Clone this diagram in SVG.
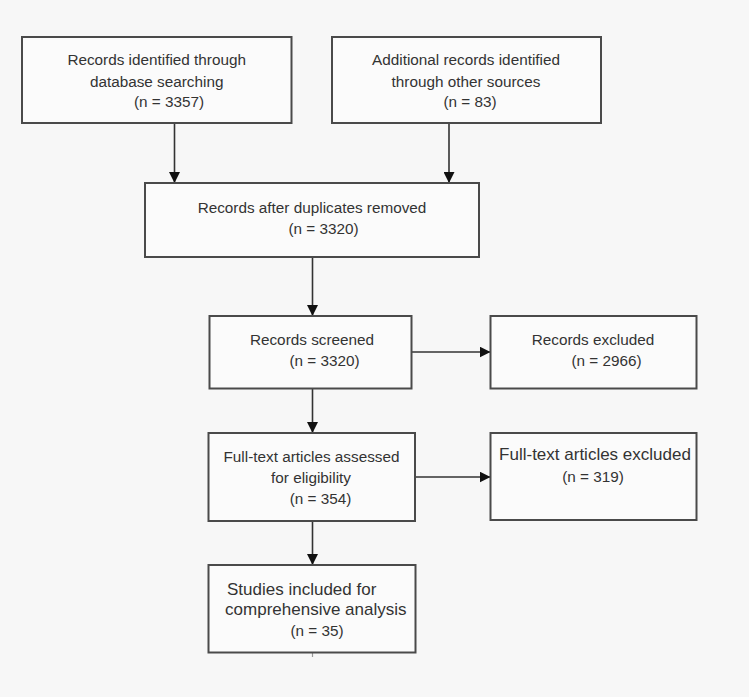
<svg xmlns="http://www.w3.org/2000/svg" width="749" height="697" viewBox="0 0 749 697">
<defs>
<style>
.box{fill:#fbfbfb;stroke:#4a4a4a;stroke-width:2}
.t{font-family:"Liberation Sans",Arial,sans-serif;font-size:15.3px;fill:#333;text-anchor:middle}
.tl{font-family:"Liberation Sans",Arial,sans-serif;font-size:17px;fill:#333;text-anchor:middle}
.ln{stroke:#333;stroke-width:1.6;fill:none}
</style>
<marker id="ah" viewBox="0 0 10 10" refX="10" refY="5" markerWidth="11" markerHeight="11" markerUnits="userSpaceOnUse" orient="auto">
<path d="M0,0 L10,5 L0,10 Z" fill="#111"/>
</marker>
</defs>
<rect x="0" y="0" width="749" height="697" fill="#f7f7f7"/>
<g id="connectors">
<line class="ln" x1="174.5" y1="123" x2="174.5" y2="183" marker-end="url(#ah)"/>
<line class="ln" x1="449" y1="123" x2="449" y2="183" marker-end="url(#ah)"/>
<line class="ln" x1="312.5" y1="257" x2="312.5" y2="316" marker-end="url(#ah)"/>
<line class="ln" x1="411.5" y1="352" x2="490.5" y2="352" marker-end="url(#ah)"/>
<line class="ln" x1="312.5" y1="389" x2="312.5" y2="433" marker-end="url(#ah)"/>
<line class="ln" x1="415" y1="477" x2="490.5" y2="477" marker-end="url(#ah)"/>
<line class="ln" x1="312.5" y1="521" x2="312.5" y2="565" marker-end="url(#ah)"/>
<line x1="312.5" y1="653" x2="312.5" y2="657" stroke="#999" stroke-width="1.2"/>
</g>
<g id="n1">
<rect class="box" x="22" y="37" width="269.5" height="86"/>
<text class="t" x="156.7" y="65">Records identified through</text>
<text class="t" x="156.7" y="86.5">database searching</text>
<text class="t" x="169" y="107">(n = 3357)</text>
</g>
<g id="n2">
<rect class="box" x="332" y="37" width="269" height="86"/>
<text class="t" x="466" y="65">Additional records identified</text>
<text class="t" x="466" y="86.5">through other sources</text>
<text class="t" x="470" y="107">(n = 83)</text>
</g>
<g id="n3">
<rect class="box" x="145" y="183" width="334" height="74"/>
<text class="t" x="312" y="213">Records after duplicates removed</text>
<text class="t" x="323.5" y="233.5">(n = 3320)</text>
</g>
<g id="n4">
<rect class="box" x="209.5" y="316" width="202" height="72.5"/>
<text class="t" x="312" y="345">Records screened</text>
<text class="t" x="324.5" y="365.5">(n = 3320)</text>
</g>
<g id="n5">
<rect class="box" x="490.5" y="316" width="206" height="72.5"/>
<text class="t" x="593" y="345">Records excluded</text>
<text class="t" x="606.5" y="365.5">(n = 2966)</text>
</g>
<g id="n6">
<rect class="box" x="208.5" y="433" width="206.5" height="88"/>
<text class="t" x="311.5" y="462">Full-text articles assessed</text>
<text class="t" x="311" y="483">for eligibility</text>
<text class="t" x="320.5" y="503.5">(n = 354)</text>
</g>
<g id="n7">
<rect class="box" x="490.5" y="433" width="206" height="87"/>
<text class="tl" x="595" y="459.5">Full-text articles excluded</text>
<text class="t" x="593" y="482">(n = 319)</text>
</g>
<g id="n8">
<rect class="box" x="208.5" y="565" width="207" height="87.5"/>
<text class="tl" x="301.7" y="595">Studies included for</text>
<text class="tl" x="315.8" y="614.5">comprehensive analysis</text>
<text class="t" x="317" y="636">(n = 35)</text>
</g>
</svg>
